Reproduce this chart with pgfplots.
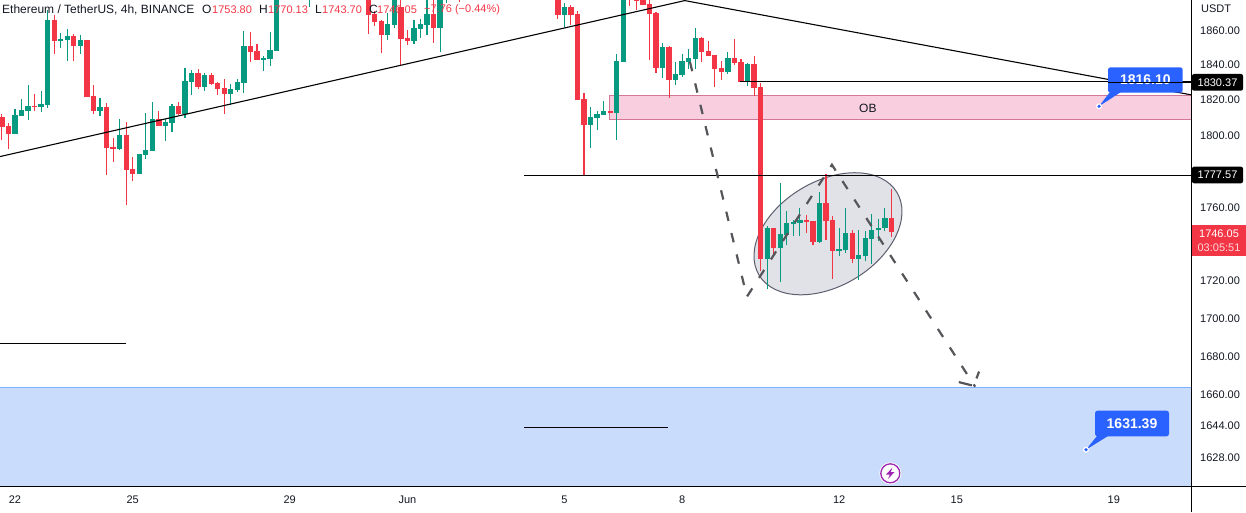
\documentclass[border=0pt]{standalone}
\usepackage{pgfplots}
\usepackage{fontspec}
\setmainfont{Liberation Sans}
\usetikzlibrary{shapes.geometric}
\pgfplotsset{compat=1.18}
\definecolor{tvgreen}{HTML}{089981}
\definecolor{tvred}{HTML}{F23645}
\definecolor{tvblue}{HTML}{2962FF}
\definecolor{tvtext}{HTML}{131722}
% candle: index, open, high, low, close
\newcommand{\U}[5]{%
  \addplot[tvgreen, line width=1.1pt, forget plot] coordinates {(#1,#4)(#1,#3)};
  \addplot[tvgreen, line width=5.3pt, forget plot] coordinates {(#1,#2)(#1,#5)};}
\newcommand{\D}[5]{%
  \addplot[tvred, line width=1.1pt, forget plot] coordinates {(#1,#4)(#1,#3)};
  \addplot[tvred, line width=5.3pt, forget plot] coordinates {(#1,#2)(#1,#5)};}
\begin{document}
\begin{tikzpicture}
\fontsize{11}{13}\selectfont
\useasboundingbox (0pt,0pt) rectangle (1246pt,512pt);
\begin{axis}[
  at={(0pt,26pt)}, anchor=south west,
  scale only axis, width=1191pt, height=486pt,
  y coord trafo/.code={\pgfmathparse{100*ln(#1/1700)}},
  xmin=-2.29, xmax=179.8, ymin=1613.3, ymax=1877.5,
  axis line style={draw=none},
  tick style={draw=none},
  major tick length=0pt,
  scaled y ticks=false,
  xtick={0,18,42,60,84,102,126,144,168},
  xticklabels={22,25,29,Jun,5,8,12,15,19},
  ytick={1628,1644,1660,1680,1700,1720,1760,1780,1800,1820,1840,1860},
  yticklabels={1628.00,1644.00,1660.00,1680.00,1700.00,1720.00,1760.00,1780.00,1800.00,1820.00,1840.00,1860.00},
  yticklabel pos=right,
  ticklabel style={font=\fontsize{11}{13}\selectfont, text=tvtext},
  yticklabel style={anchor=west, inner xsep=0pt, xshift=9pt, yshift=-0.6pt},
  xticklabel style={anchor=center, inner ysep=0pt, yshift=-14pt},
  clip=true,
]
% zones
\addplot[fill={rgb,255:red,201;green,220;blue,251}, draw=none, forget plot]
  coordinates {(-2.29,1613.3)(179.8,1613.3)(179.8,1663.3)(-2.29,1663.3)} -- cycle;
\addplot[draw={rgb,255:red,125;green,175;blue,250}, line width=1pt, forget plot]
  coordinates {(-2.29,1663.3)(179.8,1663.3)};
\addplot[fill={rgb,255:red,249;green,207;blue,223}, draw={rgb,255:red,210;green,120;blue,150}, line width=1pt, forget plot]
  coordinates {(90.83,1808.9)(181,1808.9)(181,1822.5)(90.83,1822.5)} -- cycle;
% ellipse
\node[ellipse, rotate=31, minimum width=160.8pt, minimum height=104.6pt, inner sep=0pt,
  fill={rgb,255:red,224;green,226;blue,232}, draw={rgb,255:red,92;green,95;blue,110}, line width=1pt]
  at (axis cs:124.3,1745.3) {};
% candles
\U{0}{1800.6}{1814.7}{1800.6}{1811.3}
\U{1}{1810.8}{1820.4}{1810.8}{1814.2}
\U{2}{1813.6}{1828.4}{1808.5}{1816.4}
\U{4}{1815.9}{1825.0}{1813.0}{1817.6}
\U{5}{1817.0}{1871.6}{1815.3}{1865.8}
\U{7}{1853.6}{1858.2}{1849.6}{1854.8}
\U{8}{1854.2}{1860.6}{1842.1}{1856.5}
\U{10}{1850.7}{1857.1}{1846.1}{1854.2}
\U{13}{1813.6}{1821.0}{1810.8}{1815.9}
\U{16}{1792.3}{1809.1}{1791.7}{1800.1}
\U{19}{1778.3}{1789.5}{1778.3}{1789.5}
\U{20}{1788.9}{1812.5}{1786.7}{1791.7}
\U{21}{1791.2}{1818.7}{1791.2}{1809.1}
\U{23}{1805.1}{1809.1}{1796.7}{1807.4}
\U{24}{1806.8}{1817.6}{1801.7}{1816.4}
\U{26}{1811.9}{1838.1}{1809.6}{1830.7}
\U{27}{1830.1}{1837.0}{1822.7}{1835.2}
\U{29}{1827.2}{1835.2}{1825.0}{1834.1}
\U{33}{1823.3}{1829.0}{1817.0}{1826.1}
\U{34}{1825.5}{1831.8}{1824.4}{1830.1}
\U{35}{1829.5}{1859.4}{1823.8}{1850.7}
\U{38}{1842.7}{1845.0}{1836.4}{1843.8}
\U{39}{1843.3}{1858.8}{1839.3}{1848.4}
\U{40}{1847.9}{1890.0}{1847.9}{1885.0}
\U{45}{1880.0}{1890.0}{1873.6}{1885.0}
\U{57}{1857.1}{1869.7}{1854.2}{1863.5}
\U{58}{1862.9}{1885.0}{1861.2}{1880.0}
\U{61}{1853.6}{1865.8}{1851.9}{1861.2}
\U{62}{1860.6}{1866.4}{1855.4}{1863.5}
\U{63}{1862.9}{1880.0}{1857.1}{1869.3}
\U{65}{1861.2}{1885.0}{1847.3}{1880.0}
\U{66}{1880.0}{1890.0}{1876.0}{1885.0}
\U{84}{1868.7}{1876.0}{1861.7}{1873.4}
\U{88}{1805.7}{1815.9}{1792.8}{1810.2}
\U{89}{1809.6}{1813.6}{1802.9}{1811.9}
\U{90}{1811.3}{1819.3}{1811.3}{1813.6}
\U{92}{1812.5}{1846.1}{1797.3}{1842.1}
\U{93}{1841.5}{1890.0}{1841.5}{1885.0}
\U{99}{1838.1}{1852.5}{1832.4}{1850.2}
\U{101}{1831.2}{1841.5}{1828.4}{1834.7}
\U{102}{1834.1}{1846.1}{1833.0}{1842.1}
\U{103}{1841.5}{1849.0}{1837.5}{1843.8}
\U{104}{1843.3}{1861.2}{1837.5}{1855.4}
\U{109}{1835.8}{1847.3}{1834.7}{1843.8}
\U{112}{1830.1}{1841.0}{1827.8}{1840.4}
\U{115}{1731.5}{1749.8}{1715.4}{1748.2}
\U{117}{1737.4}{1773.3}{1719.1}{1745.0}
\U{118}{1744.4}{1758.0}{1739.0}{1751.4}
\U{119}{1750.9}{1753.0}{1743.9}{1752.0}
\U{120}{1751.4}{1759.6}{1743.9}{1753.0}
\U{123}{1740.7}{1768.3}{1740.1}{1762.3}
\U{126}{1735.8}{1748.2}{1733.1}{1736.9}
\U{127}{1736.3}{1759.6}{1734.7}{1746.0}
\U{129}{1731.5}{1747.1}{1720.2}{1733.7}
\U{130}{1733.1}{1746.6}{1730.4}{1742.8}
\U{131}{1742.3}{1756.3}{1728.8}{1747.6}
\U{132}{1747.1}{1753.6}{1741.2}{1748.7}
\U{133}{1748.2}{1759.6}{1746.6}{1754.1}
\D{-2}{1810.2}{1811.9}{1797.3}{1804.6}
\D{-1}{1805.1}{1806.6}{1792.3}{1800.6}
\D{3}{1816.4}{1823.3}{1813.6}{1815.9}
\D{6}{1865.8}{1868.7}{1846.1}{1853.6}
\D{9}{1856.5}{1857.7}{1842.1}{1850.7}
\D{11}{1854.2}{1854.2}{1821.5}{1821.5}
\D{12}{1822.1}{1828.4}{1811.9}{1813.6}
\D{14}{1815.9}{1818.1}{1777.7}{1792.8}
\D{15}{1793.4}{1798.4}{1785.0}{1792.3}
\D{17}{1800.1}{1807.4}{1761.1}{1780.5}
\D{18}{1781.1}{1787.8}{1774.4}{1778.3}
\D{22}{1809.1}{1813.6}{1805.1}{1805.1}
\D{25}{1816.4}{1818.7}{1811.3}{1811.9}
\D{28}{1835.2}{1837.5}{1826.1}{1827.2}
\D{30}{1834.1}{1835.2}{1828.4}{1829.0}
\D{31}{1829.5}{1830.1}{1822.7}{1826.1}
\D{32}{1826.7}{1831.8}{1811.9}{1823.3}
\D{36}{1850.7}{1858.8}{1841.5}{1847.3}
\D{37}{1847.9}{1851.9}{1842.7}{1842.7}
\D{54}{1885.0}{1890.0}{1857.7}{1868.7}
\D{55}{1869.3}{1871.0}{1862.3}{1864.8}
\D{56}{1865.2}{1866.0}{1846.9}{1857.1}
\D{59}{1873.6}{1880.0}{1839.8}{1854.8}
\D{60}{1855.4}{1860.0}{1851.3}{1853.8}
\D{64}{1869.3}{1880.0}{1852.5}{1861.2}
\D{68}{1885.0}{1890.0}{1876.3}{1880.0}
\D{83}{1882.0}{1885.0}{1866.4}{1868.7}
\D{85}{1873.4}{1874.5}{1862.9}{1868.7}
\D{86}{1869.3}{1871.0}{1819.8}{1819.8}
\D{87}{1820.4}{1823.8}{1777.7}{1805.7}
\D{91}{1813.6}{1813.6}{1812.5}{1812.5}
\D{94}{1885.0}{1890.0}{1874.0}{1880.0}
\D{95}{1882.0}{1885.0}{1871.6}{1876.9}
\D{96}{1880.0}{1885.0}{1874.6}{1874.6}
\D{97}{1875.2}{1879.0}{1842.7}{1869.3}
\D{98}{1869.9}{1870.5}{1835.2}{1838.1}
\D{100}{1850.2}{1850.7}{1821.0}{1831.2}
\D{105}{1855.4}{1855.9}{1841.5}{1847.3}
\D{106}{1847.9}{1853.6}{1845.0}{1845.0}
\D{107}{1845.6}{1845.6}{1827.2}{1837.5}
\D{108}{1838.1}{1842.1}{1831.2}{1835.8}
\D{110}{1843.8}{1854.8}{1839.8}{1841.0}
\D{111}{1841.5}{1843.3}{1830.1}{1830.1}
\D{113}{1840.4}{1845.0}{1822.1}{1826.7}
\D{114}{1827.2}{1829.5}{1725.0}{1731.5}
\D{116}{1748.2}{1748.2}{1733.1}{1737.4}
\D{121}{1753.0}{1755.8}{1745.5}{1752.0}
\D{122}{1752.5}{1752.5}{1739.0}{1740.7}
\D{124}{1762.3}{1778.3}{1741.7}{1752.5}
\D{125}{1753.0}{1755.2}{1720.7}{1735.8}
\D{128}{1746.0}{1747.6}{1729.3}{1731.5}
\D{134}{1753.80}{1770.13}{1743.70}{1746.05}
% trend line
\addplot[black, line width=1.1pt, forget plot] coordinates {(-2.29,1787.9)(102.4,1877.1)(179.8,1822.7)};
% horizontal lines
\addplot[black, line width=1pt, forget plot] coordinates {(110.9,1830.37)(179.8,1830.37)};
\addplot[black, line width=1pt, forget plot] coordinates {(77.8,1777.57)(179.8,1777.57)};
\addplot[black, line width=1pt, forget plot] coordinates {(-2.29,1686.4)(17.0,1686.4)};
\addplot[black, line width=1pt, forget plot] coordinates {(77.8,1642.8)(99.85,1642.8)};
% dashed path
\addplot[color={rgb,255:red,85;green,85;blue,90}, line width=2.2pt, dash pattern=on 9.5pt off 12.5pt, forget plot]
  coordinates {(103.2,1841.5)(111.9,1711.3)(124.9,1783.3)(146.8,1663.9)};
\addplot[color={rgb,255:red,85;green,85;blue,90}, line width=2.2pt, forget plot]
  coordinates {(144.3,1666.3)(146.3,1664.6)};
\addplot[color={rgb,255:red,85;green,85;blue,90}, line width=2.2pt, forget plot]
  coordinates {(147.4,1671.8)(147.0,1668.2)};
\node[font=\fontsize{12}{14}\selectfont, text=tvtext] at (axis cs:130.4,1815.3) {OB};
\end{axis}
\begin{scope}[y=-1pt,x=1pt,shift={(0pt,512pt)}]
% spines
\draw[black, line width=1pt] (0,486.5) -- (1246,486.5);
\draw[black, line width=1pt] (1191.5,0) -- (1191.5,512);
% callouts
\fill[tvblue, rounded corners=2.5pt] (1108,67.3) rectangle (1182.7,92.7);
\fill[tvblue] (1110,92) -- (1121,92) -- (1099,106.3) -- cycle;
\fill[white] (1099,106.3) circle (3pt);
\fill[tvblue] (1099,106.3) circle (1.8pt);
\node[text=white, font=\fontsize{14}{16}\bfseries\selectfont] at (1145.3,80) {1816.10};
\draw[black, line width=1pt] (1108,82.3) -- (1191,82.3);
\fill[tvblue, rounded corners=2.5pt] (1095,410.7) rectangle (1169,436.3);
\fill[tvblue] (1097,436) -- (1108,436) -- (1086,449.7) -- cycle;
\fill[white] (1086,449.7) circle (3pt);
\fill[tvblue] (1086,449.7) circle (1.8pt);
\node[text=white, font=\fontsize{14}{16}\bfseries\selectfont] at (1132,423.5) {1631.39};
% lightning
\fill[white] (890.3,473.3) circle (11pt);
\draw[color={rgb,255:red,156;green,39;blue,176}, line width=1.3pt] (890.3,473.3) circle (9.5pt);
\fill[color={rgb,255:red,156;green,39;blue,176}] (892.5,467.5) -- (886,474.5) -- (889.8,474.5) -- (888,479) -- (894.5,472) -- (890.8,472) -- cycle;
% right labels
\fill[black, rounded corners=2pt] (1192,74) rectangle (1243,90.7);
\node[text=white, font=\fontsize{11}{13}\selectfont] at (1217.5,82.5) {1830.37};
\fill[black, rounded corners=2pt] (1192,166.7) rectangle (1243,183.3);
\node[text=white, font=\fontsize{11}{13}\selectfont] at (1217.5,175.2) {1777.57};
\fill[tvred] (1192,225) rectangle (1246,256);
\node[text=white, font=\fontsize{11}{13}\selectfont] at (1219,233.5) {1746.05};
\node[text=white, text opacity=0.8, font=\fontsize{11}{13}\selectfont] at (1219,248) {03:05:51};
\node[text=tvtext, anchor=west, inner sep=0pt, font=\fontsize{11}{13}\selectfont] at (1201,9) {USDT};
% header
\node[text=tvtext, anchor=west, inner sep=0pt, font=\fontsize{12}{14}\selectfont] at (2,9.5) {Ethereum / TetherUS, 4h, BINANCE};
\foreach \x/\t in {202/O,259/H,315/L,369/C}
  \node[text=tvtext, anchor=west, inner sep=0pt, font=\fontsize{12}{14}\selectfont] at (\x,9.5) {\t};
\foreach \x/\t in {212/1753.80,268/1770.13,322/1743.70,377/1746.05,424/−7.76 (−0.44\%)}
  \node[text=tvred, anchor=west, inner sep=0pt, font=\fontsize{11}{13}\selectfont] at (\x,9.5) {\t};
\end{scope}
\end{tikzpicture}
\end{document}
